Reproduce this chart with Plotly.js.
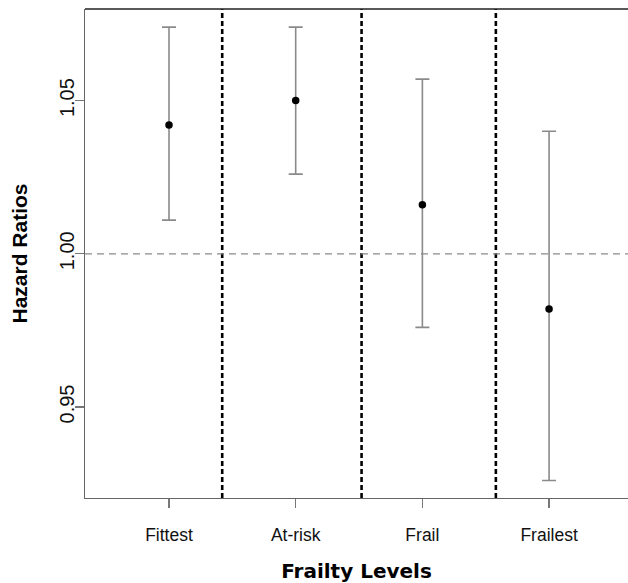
<!DOCTYPE html>
<html>
<head>
<meta charset="utf-8">
<script src="https://cdn.plot.ly/plotly-3.0.1.min.js"></script>
<style>html,body{margin:0;padding:0;background:#fff;}#chart{width:628px;height:583px;}</style>
</head>
<body>
<div id="chart"></div>
<script>
// Data
var categories = ["Fittest", "At-risk", "Frail", "Frailest"];
var positions = [1, 2, 3, 4];
var hazardRatios = [1.042, 1.050, 1.016, 0.982];
var upperCI = [1.074, 1.074, 1.057, 1.040];
var lowerCI = [1.011, 1.026, 0.976, 0.926];
var separators = [1.42, 2.52, 3.58];
var referenceLine = 1.00;
var yTicks = [0.95, 1.00, 1.05];
var yTickLabels = ["0.95", "1.00", "1.05"];

var errPlus = hazardRatios.map(function (v, i) { return upperCI[i] - v; });
var errMinus = hazardRatios.map(function (v, i) { return v - lowerCI[i]; });

var trace = {
  type: "scatter",
  mode: "markers",
  x: positions,
  y: hazardRatios,
  marker: { color: "#000", size: 7.5 },
  error_y: {
    type: "data",
    symmetric: false,
    array: errPlus,
    arrayminus: errMinus,
    color: "#8a8a8a",
    thickness: 1.6,
    width: 7
  },
  hoverinfo: "x+y",
  showlegend: false
};

var shapes = separators.map(function (s) {
  return {
    type: "line", xref: "x", yref: "paper", x0: s, x1: s, y0: 0, y1: 1,
    line: { color: "#000", width: 2.6, dash: "5px,3px" }
  };
});
shapes.push({
  type: "line", xref: "paper", yref: "y", x0: 0, x1: 1, y0: referenceLine, y1: referenceLine,
  line: { color: "#8a8a8a", width: 1.2, dash: "7px,5px" }
});
shapes.push({
  type: "line", xref: "paper", yref: "paper", x0: 0, x1: 1, y0: 1, y1: 1,
  line: { color: "#222", width: 1.6 }
});

var layout = {
  width: 628,
  height: 583,
  margin: { l: 85, r: 0, t: 9, b: 85 },
  paper_bgcolor: "#fff",
  plot_bgcolor: "#fff",
  font: { family: "Liberation Sans, Arial, sans-serif", color: "#000" },
  xaxis: {
    range: [0.337, 4.623],
    tickmode: "array",
    tickvals: positions,
    ticktext: categories,
    ticks: "outside",
    ticklen: 9,
    tickcolor: "#777",
    tickwidth: 1.2,
    showgrid: false,
    zeroline: false,
    showline: true,
    linecolor: "#666",
    linewidth: 1.4,
    tickfont: { size: 17.5, color: "#111" },
    ticklabelstandoff: 12,
    title: {
      text: "Frailty Levels",
      font: { family: "DejaVu Sans, sans-serif", size: 20, weight: "bold", color: "#000" },
      standoff: 29
    }
  },
  yaxis: {
    range: [0.9203, 1.0799],
    tickmode: "array",
    tickvals: yTicks,
    ticktext: yTickLabels,
    tickangle: -90,
    ticks: "outside",
    ticklen: 9,
    tickcolor: "#777",
    tickwidth: 1.2,
    showgrid: false,
    zeroline: false,
    showline: true,
    linecolor: "#666",
    linewidth: 1.4,
    tickfont: { size: 20, color: "#111" },
    ticklabelstandoff: -7,
    title: {
      text: "Hazard Ratios",
      font: { family: "Liberation Sans, Arial, sans-serif", size: 21, weight: "bold", color: "#000" },
      standoff: 22
    }
  },
  shapes: shapes
};

Plotly.newPlot("chart", [trace], layout, { displayModeBar: false, staticPlot: true });
</script>
</body>
</html>
